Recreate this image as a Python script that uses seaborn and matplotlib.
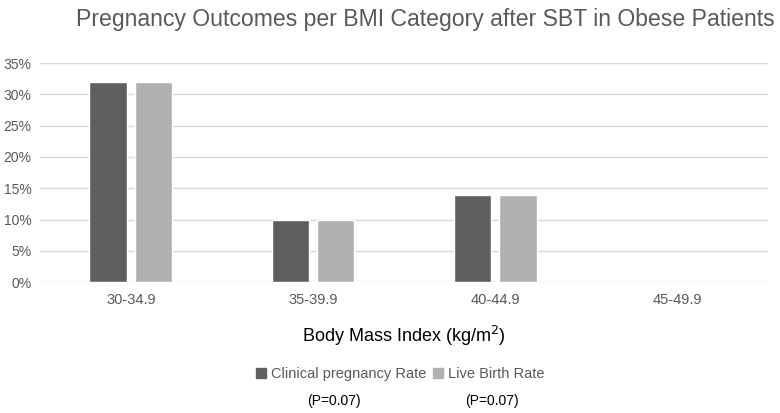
import pandas as pd
import seaborn as sns
import matplotlib.pyplot as plt
from matplotlib.ticker import PercentFormatter

categories = ["30-34.9", "35-39.9", "40-44.9", "45-49.9"]
clinical_pregnancy = [0.32, 0.10, 0.14, 0.0]
live_birth = [0.32, 0.10, 0.14, 0.0]
series = ["Clinical pregnancy Rate", "Live Birth Rate"]
p_labels = ["(P=0.07)", "(P=0.07)"]

df = pd.DataFrame({
    "bmi": categories * 2,
    "rate": clinical_pregnancy + live_birth,
    "series": [series[0]] * 4 + [series[1]] * 4,
})

sns.set_style("white")
plt.rcParams["font.family"] = ["Liberation Sans", "DejaVu Sans"]

fig = plt.figure(figsize=(7.8, 4.13), dpi=100)
ax = fig.add_axes([0.051, 0.317, 0.934, 0.530])

sns.barplot(data=df, x="bmi", y="rate", hue="series",
            palette=["#5f5f5f", "#b0b0b0"], width=0.5, gap=0.18,
            ax=ax, legend=False)

ax.set_ylim(0, 0.35)
ax.set_yticks([i * 0.05 for i in range(8)])
ax.yaxis.set_major_formatter(PercentFormatter(1.0, decimals=0))
ax.grid(axis="y", color="#d9d9d9", linewidth=1)
ax.set_axisbelow(True)
for s in ax.spines.values():
    s.set_visible(False)
ax.tick_params(axis="x", length=0, labelsize=10.5, colors="#595959", pad=8)
ax.tick_params(axis="y", length=0, labelsize=10, colors="#595959", pad=6)

ax.set_xlabel("Body Mass Index (kg/m$^2$)", fontsize=13, color="black", labelpad=12)
ax.set_ylabel("")

fig.text(0.545, 0.952, "Pregnancy Outcomes per BMI Category after SBT in Obese Patients",
         ha="center", va="center", fontsize=16.6, color="#595959")

handles = [plt.Rectangle((0, 0), 1, 1, color=c) for c in ["#5f5f5f", "#b0b0b0"]]
leg = fig.legend(handles, series, loc="center", bbox_to_anchor=(0.513, 0.094),
                 ncol=2, frameon=False, fontsize=10.5, handlelength=0.7,
                 handleheight=0.7, handletextpad=0.3, columnspacing=0.5)
for t in leg.get_texts():
    t.set_color("#595959")

for x, label in zip([0.428, 0.631], p_labels):
    fig.text(x, 0.03, label, ha="center", va="center", fontsize=10, color="black")

fig.savefig("out.png", dpi=100)
